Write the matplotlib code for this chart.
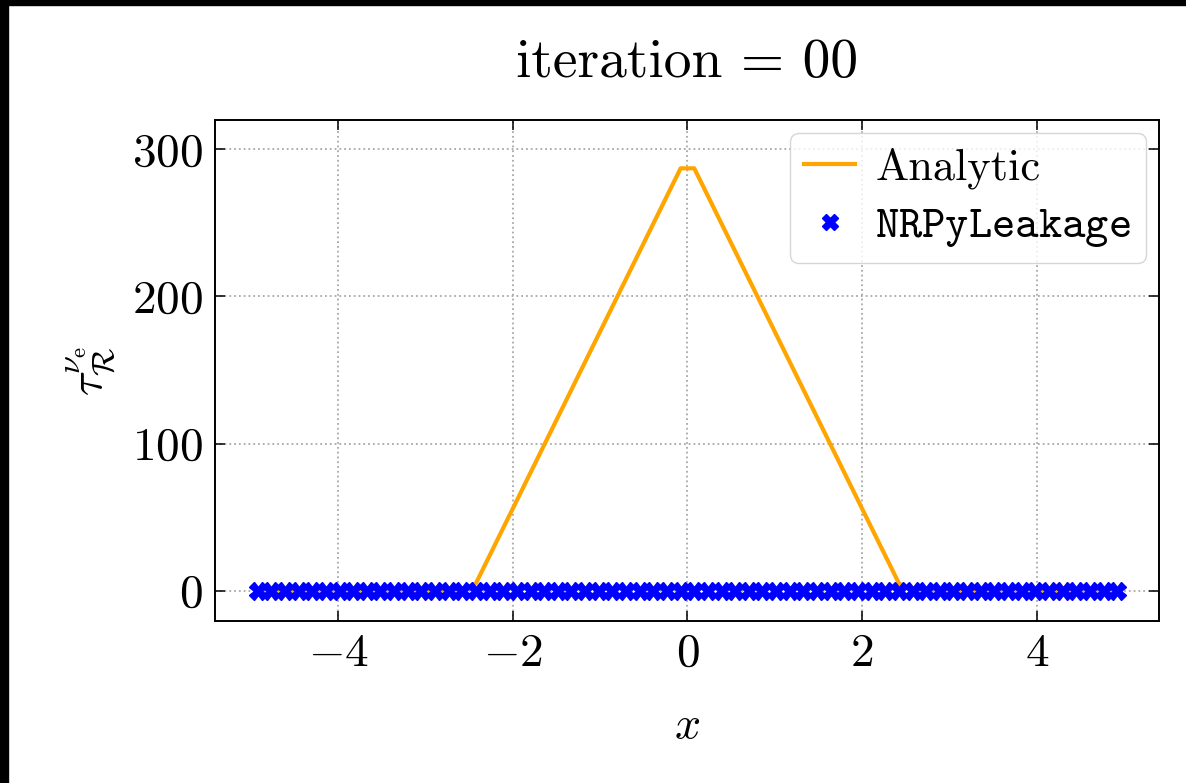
import numpy as np
import matplotlib
matplotlib.use("Agg")
import matplotlib.pyplot as plt
from matplotlib.patches import Rectangle

plt.rcParams.update({
    "font.family": "serif",
    "font.serif": ["cmr10"],
    "mathtext.fontset": "cm",
    "axes.formatter.use_mathtext": True,
    "axes.unicode_minus": True,
})

# Cell-centred grid: 64 points on [-5, 5]
n_cells = 64
dx = 10.0 / n_cells
x_grid = np.linspace(-5 + dx / 2, 5 - dx / 2, n_cells)

# Analytic optical depth: vertices of the piecewise-linear profile
analytic_x = [-4.922, -2.578, -2.422, -0.078, 0.078, 2.422, 2.578, 4.922]
analytic_tau = [0.0, 0.0, 5.0, 287.0, 287.0, 5.0, 0.0, 0.0]

# Leakage-code values at iteration 0
leakage_tau = [0.0] * n_cells

iteration = 0

fig = plt.figure(figsize=(11.86, 7.83), dpi=100)
ax = fig.add_axes([0.1813, 0.2069, 0.9772 - 0.1813, 0.8467 - 0.2069])

ax.plot(analytic_x, analytic_tau, color="orange", lw=3.0, label="Analytic", zorder=2)
ax.plot(x_grid, leakage_tau, ls="none", marker="X", ms=12.5, color="blue",
        mec="blue", label=r"$\mathtt{NRPyLeakage}$", zorder=3)

ax.set_xlim(-5.41, 5.40)
ax.set_ylim(-20.6, 319.8)
ax.set_xticks([-4, -2, 0, 2, 4])
ax.set_yticks([0, 100, 200, 300])

ax.grid(True, ls=":", color="#a8a8a8", lw=1.3)
ax.tick_params(direction="in", length=7.5, width=1.1, labelsize=34,
               top=True, right=True, pad=9)
for s in ax.spines.values():
    s.set_linewidth(1.4)

ax.set_title("iteration = %02d" % iteration, fontsize=40, pad=31)
ax.set_xlabel(r"$x$", fontsize=33, labelpad=22)
ax.set_ylabel(r"$\tau_{\mathcal{R}}^{\nu_{\rm e}}$", fontsize=33, labelpad=10)

leg = ax.legend(loc="upper right", fontsize=32, frameon=True, fancybox=True,
                edgecolor="#cccccc", framealpha=0.8, borderaxespad=0.3,
                handlelength=1.15, handletextpad=0.45, borderpad=0.32,
                labelspacing=0.38, markerscale=0.9)

# Dark frame along the top and left edges of the canvas
fig.patches.append(Rectangle((0, 1 - 5 / 783), 1, 5 / 783, transform=fig.transFigure,
                             color="black", zorder=10))
fig.patches.append(Rectangle((0, 0), 8 / 1186, 1, transform=fig.transFigure,
                             color="black", zorder=10))

fig.savefig("out.png", dpi=100)
